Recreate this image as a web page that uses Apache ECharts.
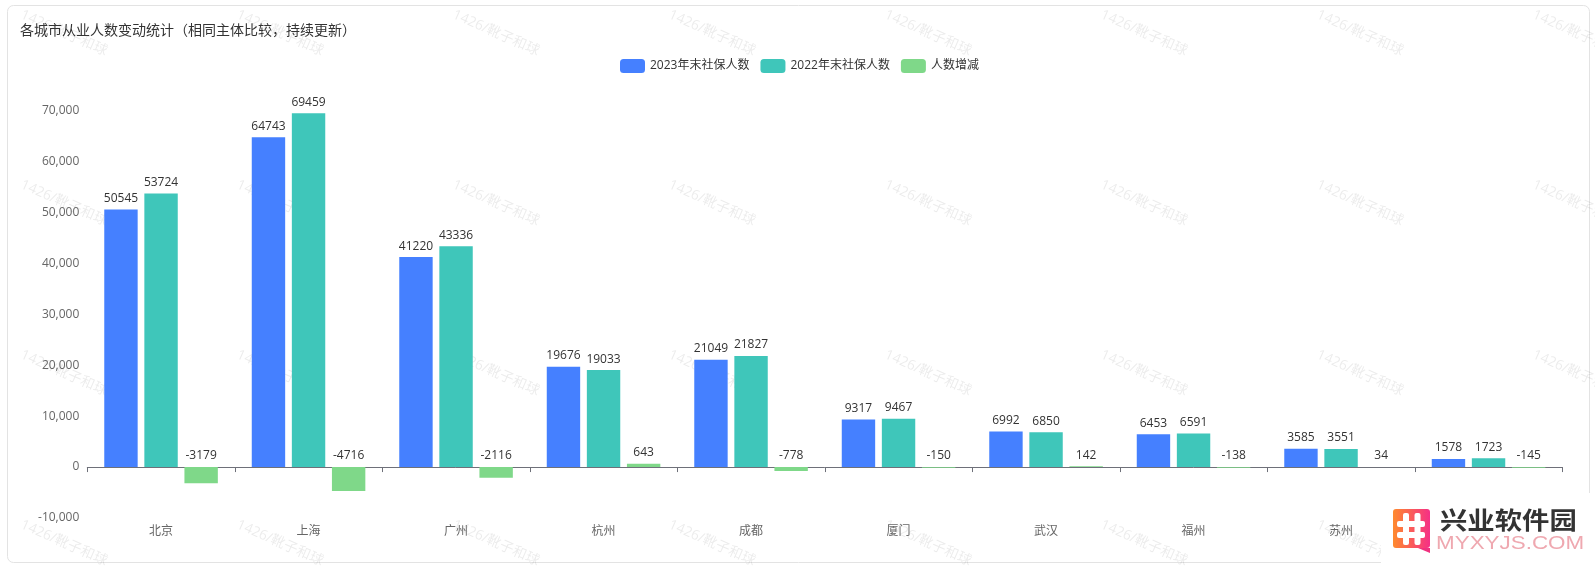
<!DOCTYPE html>
<html><head><meta charset="utf-8">
<style>html,body{margin:0;padding:0;background:#fff}#c{width:1595px;height:567px}</style>
<script src="https://cdn.jsdelivr.net/npm/echarts@6/dist/echarts.min.js"></script>
</head><body><div id="c"></div>
<script>
const cities = ['北京','上海','广州','杭州','成都','厦门','武汉','福州','苏州','南京'];
const y2023 = [50545,64743,41220,19676,21049,9317,6992,6453,3585,1578];
const y2022 = [53724,69459,43336,19033,21827,9467,6850,6591,3551,1723];
const change = [-3179,-4716,-2116,643,-778,-150,142,-138,34,-145];
const seriesNames = ['2023年末社保人数','2022年末社保人数','人数增减'];
const colors = ['#4580FF','#3FC6BA','#7FD889'];
const titleText = '各城市从业人数变动统计（相同主体比较，持续更新）';
const watermarkText = '1426/靴子和球';
const FONT = '"Open Sans","Noto Sans CJK SC",sans-serif';

const watermarks = [];
[33,203,373,543].forEach(y => {
  [64,280,496,712,928,1144,1360,1576].forEach(x => {
    watermarks.push({type:'text', x, y, rotation:-24*Math.PI/180, z:-1, silent:true,
      style:{text:watermarkText, x:0, y:0, align:'center', verticalAlign:'middle',
        fill:'rgba(0,0,0,0.08)', font:'14px '+FONT}});
  });
});
const card = {type:'rect', z:-2, silent:true, shape:{x:7.5,y:5.5,width:1582,height:557,r:6},
  style:{fill:'#fff', stroke:'#e3e3e3', lineWidth:1}};
const hashBars = [[1403,513,6,32],[1414.5,513,6,32],[1397,521,28,6],[1397,532,28,6]].map(b => (
  {type:'rect', z:52, silent:true, shape:{x:b[0],y:b[1],width:b[2],height:b[3],r:2}, style:{fill:'#fff'}}));
const logo = [
  {type:'rect', z:50, silent:true, shape:{x:1381,y:493,width:214,height:74}, style:{fill:'#fff'}},
  {type:'polygon', z:51, silent:true, shape:{points:[[1418,548],[1430,548],[1430,553]]}, style:{fill:'#F0317F'}},
  {type:'rect', z:51, silent:true, shape:{x:1393,y:509,width:37,height:39,r:3},
    style:{fill:new echarts.graphic.LinearGradient(0,0,1,0,[{offset:0,color:'#FF8A2E'},{offset:1,color:'#F52F86'}])}},
  ...hashBars,
  {type:'text', z:52, silent:true, x:1440, y:520, scaleX:1.14, style:{text:'兴业软件园', x:0, y:0, align:'left', verticalAlign:'middle',
    fill:'#333', font:'700 24px "Noto Sans CJK SC",sans-serif'}},
  {type:'text', z:52, silent:true, x:1436, y:544, scaleX:1.18, style:{text:'MYXYJS.COM', x:0, y:0, align:'left', verticalAlign:'middle',
    fill:'#EFA8B0', font:'19px "Liberation Sans",sans-serif'}}
];

const mk = (i, data) => ({
  name: seriesNames[i], type:'bar', data,
  barGap:'20%', barCategoryGap:'23%',
  itemStyle:{color:colors[i]},
  label:{show:true, position:'top', color:'#333', fontSize:12, fontFamily:FONT}
});

const chart = echarts.init(document.getElementById('c'), null, {renderer:'canvas'});
chart.setOption({
  animation:false,
  backgroundColor:'#fff',
  textStyle:{fontFamily:FONT},
  color:colors,
  title:{text:titleText, left:15, top:19, textStyle:{fontSize:14, fontWeight:'normal', color:'#333', fontFamily:FONT}},
  legend:{top:54, left:615, itemWidth:25, itemHeight:14, itemGap:11, icon:'roundRect',
    textStyle:{fontSize:12, color:'#333', fontFamily:FONT}},
  grid:{left:87.3, right:32.7, top:110.5, bottom:49, containLabel:false, outerBoundsMode:'none'},
  xAxis:{type:'category', data:cities,
    axisLine:{onZero:true, lineStyle:{color:'#6E7079'}},
    axisTick:{show:true, length:5},
    axisLabel:{color:'#666', fontSize:12, margin:8, fontFamily:FONT}},
  yAxis:{type:'value', min:-10000, max:70000, interval:10000,
    axisLine:{show:false}, axisTick:{show:false}, splitLine:{show:false},
    axisLabel:{color:'#666', fontSize:12, margin:8, fontFamily:FONT,
      formatter:v=>v.toLocaleString('en-US')}},
  series:[mk(0,y2023),mk(1,y2022),mk(2,change)],
  graphic:{elements:[card,...watermarks,...logo]}
});
</script></body></html>
